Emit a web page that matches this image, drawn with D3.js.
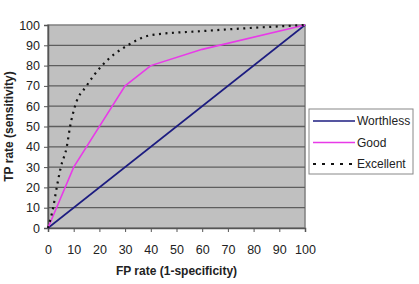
<!DOCTYPE html>
<html>
<head>
<meta charset="utf-8">
<script src="https://cdn.jsdelivr.net/npm/d3@7"></script>
<style>
  body { margin: 0; background: #fff; }
  svg text { font-family: "Liberation Sans", Arial, sans-serif; }
</style>
</head>
<body>
<div id="chart"></div>
<script>
const xTicks = [0, 10, 20, 30, 40, 50, 60, 70, 80, 90, 100];
const yTicks = [0, 10, 20, 30, 40, 50, 60, 70, 80, 90, 100];

const seriesNames = ["Worthless", "Good", "Excellent"];
const worthlessX = [0, 100];
const worthlessY = [0, 100];
const goodX = [0, 10, 30, 40, 60, 100];
const goodY = [0, 30, 70, 80, 88, 100];
const excellentX = [0, 2, 3.4, 5, 7.3, 8.6, 10.5, 15, 21, 31, 40, 60, 100];
const excellentY = [0, 10, 20, 30, 40, 50, 60, 70, 80, 90, 95, 97, 100];

const width = 419, height = 284;
const plot = {left: 48, top: 25, right: 305, bottom: 228};

const svg = d3.select("#chart").append("svg")
  .attr("width", width)
  .attr("height", height);

const x = d3.scaleLinear().domain([0, 100]).range([plot.left, plot.right]);
const y = d3.scaleLinear().domain([0, 100]).range([plot.bottom, plot.top]);

// plot background
svg.append("rect")
  .attr("x", plot.left).attr("y", plot.top)
  .attr("width", plot.right - plot.left)
  .attr("height", plot.bottom - plot.top)
  .attr("fill", "#c0c0c0")
  .attr("stroke", "#808080")
  .attr("stroke-width", 1.5);

// gridlines
svg.append("g")
  .selectAll("line")
  .data(yTicks.filter(d => d > 0 && d < 100))
  .enter().append("line")
    .attr("x1", plot.left).attr("x2", plot.right)
    .attr("y1", d => y(d)).attr("y2", d => y(d))
    .attr("stroke", "#5e5e5e")
    .attr("stroke-width", 1.3);

// axes
const xAxis = svg.append("g")
  .attr("transform", `translate(0,${plot.bottom})`)
  .call(d3.axisBottom(x).tickValues(xTicks).tickSize(4).tickPadding(13));
const yAxis = svg.append("g")
  .attr("transform", `translate(${plot.left},0)`)
  .call(d3.axisLeft(y).tickValues(yTicks).tickSize(4).tickPadding(4));

[xAxis, yAxis].forEach(a => {
  a.select(".domain").attr("stroke", "#555").attr("stroke-width", 1.5);
  a.selectAll(".tick line").attr("stroke", "#555");
  a.selectAll(".tick text")
    .attr("font-size", 12.5)
    .attr("fill", "#222")
    .style("font-family", "'Liberation Sans', Arial, sans-serif");
});

// series
const line = d3.line().x(d => x(d[0])).y(d => y(d[1]));
const smooth = d3.line().x(d => x(d[0])).y(d => y(d[1])).curve(d3.curveMonotoneX);

const series = [
  {name: seriesNames[0], pts: d3.zip(worthlessX, worthlessY), color: "#1c1c80", dash: null, width: 1.6, gen: line},
  {name: seriesNames[1], pts: d3.zip(goodX, goodY), color: "#e83ae8", dash: null, width: 1.6, gen: line},
  {name: seriesNames[2], pts: d3.zip(excellentX, excellentY), color: "#111", dash: "2,4.5", width: 2.2, gen: smooth}
];

svg.append("g")
  .selectAll("path")
  .data(series)
  .enter().append("path")
    .attr("d", d => d.gen(d.pts))
    .attr("fill", "none")
    .attr("stroke", d => d.color)
    .attr("stroke-width", d => d.width)
    .attr("stroke-dasharray", d => d.dash);

// axis titles
svg.append("text")
  .attr("x", (plot.left + plot.right) / 2)
  .attr("y", 275)
  .attr("text-anchor", "middle")
  .attr("font-size", 12)
  .attr("font-weight", "bold")
  .attr("fill", "#222")
  .text("FP rate (1-specificity)");

svg.append("text")
  .attr("transform", `translate(13,${(plot.top + plot.bottom) / 2}) rotate(-90)`)
  .attr("text-anchor", "middle")
  .attr("font-size", 12)
  .attr("font-weight", "bold")
  .attr("fill", "#222")
  .text("TP rate (sensitivity)");

// legend
const legend = svg.append("g").attr("transform", "translate(309,109)");
legend.append("rect")
  .attr("width", 104).attr("height", 65)
  .attr("fill", "#fff")
  .attr("stroke", "#888");

const rows = legend.selectAll("g.row")
  .data(series)
  .enter().append("g")
    .attr("class", "row")
    .attr("transform", (d, i) => `translate(0,${12 + i * 21.5})`);

rows.append("line")
  .attr("x1", 4).attr("x2", 46)
  .attr("stroke", d => d.color)
  .attr("stroke-width", d => d.width)
  .attr("stroke-dasharray", d => d.dash ? "3,6" : null);

rows.append("text")
  .attr("x", 48)
  .attr("dy", "0.35em")
  .attr("font-size", 12)
  .attr("fill", "#222")
  .text(d => d.name);
</script>
</body>
</html>
